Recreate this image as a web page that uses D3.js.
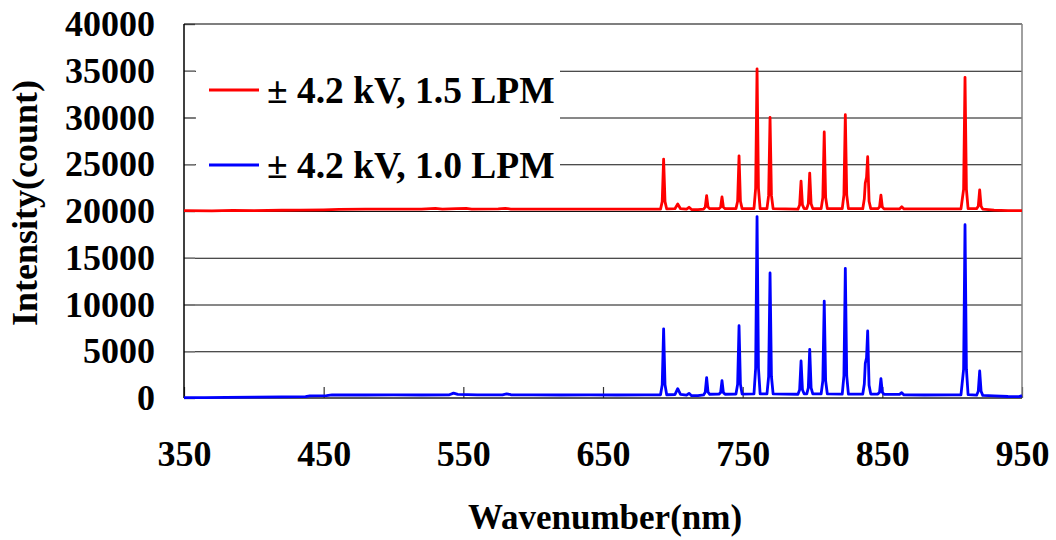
<!DOCTYPE html>
<html>
<head>
<meta charset="utf-8">
<script src="https://cdn.jsdelivr.net/npm/d3@7"></script>
<style>
  body { margin: 0; background: #fff; }
  svg { display: block; }
</style>
</head>
<body>
<div id="chart"></div>
<script>
// tick labels
var xTicks = [350, 450, 550, 650, 750, 850, 950];
var yTicks = [0, 5000, 10000, 15000, 20000, 25000, 30000, 35000, 40000];

var seriesNames = ["\u00b1 4.2 kV, 1.5 LPM", "\u00b1 4.2 kV, 1.0 LPM"];

// [wavelength nm, count]
var redSpectrum = [
  [350,20050],[370,20020],[385,20060],[400,20040],[420,20080],[433,20100],[450,20130],[461,20180],
  [480,20200],[500,20190],[520,20210],[530,20280],[535,20200],[545,20260],[552,20270],[556,20200],
  [575,20230],[580,20290],[584,20210],[600,20200],[620,20210],[640,20200],[660,20190],[680,20200],
  [691.2,20200],[692.4,21000],[693.4,25550],[694.4,21000],[695.6,20220],
  [701.5,20250],[703.5,20750],[705.5,20250],
  [709.8,20200],[711.6,20400],[713.4,20150],
  [718,20150],[722,20200],[723.2,20420],[724.2,21650],[725.2,20420],[726.4,20250],
  [733,20250],[734.2,20400],[735.2,21500],[736.2,20400],[737.4,20250],
  [745.2,20250],[746.4,21050],[747.4,25900],[748.4,21050],[749.6,20250],
  [758.1,20250],[759.3,22450],[760.3,35200],[761.3,22450],[762.5,20250],
  [767.4,20250],[768.6,21670],[769.6,30000],[770.6,21670],[771.8,20250],
  [789.6,20200],[790.8,20650],[791.8,23200],[792.8,20650],[794,20250],
  [795.9,20250],[797,20780],[798,24050],[799,20780],[800.2,20250],
  [806.2,20250],[807.4,21440],[808.4,28450],[809.4,21440],[810.6,20250],
  [821.3,20250],[822.5,21720],[823.5,30300],[824.5,21720],[825.7,20250],
  [836,20250],[837.1,21300],[837.8,23000],[838.7,23600],[839.5,25800],[840.5,21040],[841.7,20250],
  [846.8,20250],[848,20420],[849,21700],[850,20420],[851.2,20230],
  [862.3,20220],[863.9,20450],[865.5,20220],
  [880,20220],[900,20230],[906.3,20230],[908.2,22320],[909.2,34300],[910.2,22320],[911.4,20250],
  [917.5,20250],[918.7,20510],[919.7,22250],[920.7,20510],[921.9,20200],
  [930,20100],[940,20050],[950,20030]
];

var blueSpectrum = [
  [350,30],[365,40],[380,60],[400,90],[420,110],[437,150],[440,230],[452,250],[456,330],
  [480,320],[500,330],[520,320],[540,340],[543,520],[546,380],[560,330],[578,340],[581,450],
  [584,350],[600,330],[620,320],[640,330],[660,320],[680,330],
  [691.2,350],[692.4,1410],[693.4,7400],[694.4,1410],[695.6,350],
  [701.5,360],[703.5,1000],[705.5,380],
  [709.8,300],[711.6,500],[713.4,250],
  [718,250],[722,330],[723.2,620],[724.2,2170],[725.2,620],[726.4,400],
  [733,420],[734.2,575],[735.2,1850],[736.2,575],[737.4,400],
  [745.2,420],[746.4,1460],[747.4,7730],[748.4,1460],[749.6,420],
  [758.1,450],[759.3,3210],[760.3,19400],[761.3,3210],[762.5,450],
  [767.4,450],[768.6,2300],[769.6,13370],[770.6,2300],[771.8,450],
  [789.6,400],[790.8,890],[791.8,3960],[792.8,890],[794,450],
  [795.9,450],[797,1080],[798,5200],[799,1080],[800.2,450],
  [806.2,450],[807.4,1850],[808.4,10370],[809.4,1850],[810.6,450],
  [821.3,420],[822.5,2380],[823.5,13870],[824.5,2380],[825.7,420],
  [836,420],[837.1,1500],[837.8,3700],[838.7,4300],[839.5,7170],[840.5,1370],[841.7,420],
  [846.8,420],[848,610],[849,2070],[850,610],[851.2,400],
  [862.3,380],[863.9,570],[865.5,330],
  [880,320],[900,330],[906.3,330],[908.2,3080],[909.2,18530],[910.2,3080],[911.4,350],
  [917.5,300],[918.7,730],[919.7,2890],[920.7,730],[921.9,280],
  [930,220],[940,160],[948,150],[950,250]
];

var W = 1056, H = 540;
var margin = {top: 24, right: 34, bottom: 142, left: 184};
var width = W - margin.left - margin.right,
    height = H - margin.top - margin.bottom;
var font = "'Liberation Serif', 'Times New Roman', serif";

var svg = d3.select("#chart").append("svg")
    .attr("width", W)
    .attr("height", H);

var g = svg.append("g")
    .attr("transform", "translate(" + margin.left + "," + margin.top + ")");

var x = d3.scaleLinear().domain([350, 950]).range([0, width]);
var y = d3.scaleLinear().domain([0, 40000]).range([height, 0]);

// gridlines
g.append("g")
  .call(d3.axisLeft(y).tickValues(yTicks.slice(1, -1)).tickSize(-width).tickFormat(""))
  .call(function(s) {
    s.select(".domain").remove();
    s.selectAll("line").attr("stroke", "#111").attr("stroke-width", 1);
  });

// inner ticks on the y side
g.append("g")
  .call(d3.axisLeft(y).tickValues(yTicks).tickSize(-11).tickFormat(""))
  .call(function(s) {
    s.select(".domain").remove();
    s.selectAll("line").attr("stroke", "#777").attr("stroke-width", 1.5);
  });

// inner ticks on the x side
g.append("g")
  .attr("transform", "translate(0," + height + ")")
  .call(d3.axisBottom(x).tickValues(xTicks).tickSize(-11).tickFormat(""))
  .call(function(s) {
    s.select(".domain").remove();
    s.selectAll("line").attr("stroke", "#333").attr("stroke-width", 1.2);
  });

// legend background box hides the gridlines behind it
g.append("rect")
  .attr("x", 12).attr("y", 36)
  .attr("width", 364).attr("height", 150)
  .attr("fill", "#fff");

// plot border
g.append("line").attr("x1", 0).attr("x2", width).attr("y1", 0).attr("y2", 0)
  .attr("stroke", "#000").attr("stroke-width", 1.2);
g.append("line").attr("x1", 0).attr("x2", 0).attr("y1", 0).attr("y2", height)
  .attr("stroke", "#000").attr("stroke-width", 1.5);
g.append("line").attr("x1", width).attr("x2", width).attr("y1", 0).attr("y2", height)
  .attr("stroke", "#808080").attr("stroke-width", 1.5);
g.append("line").attr("x1", 0).attr("x2", width).attr("y1", height).attr("y2", height)
  .attr("stroke", "#222").attr("stroke-width", 1.5);

var line = d3.line()
  .x(function(d) { return x(d[0]); })
  .y(function(d) { return y(d[1]); });

g.append("path")
  .datum(blueSpectrum)
  .attr("fill", "none")
  .attr("stroke", "#0000ff")
  .attr("stroke-width", 2.8)
  .attr("stroke-linejoin", "round")
  .attr("d", line);

g.append("path")
  .datum(redSpectrum)
  .attr("fill", "none")
  .attr("stroke", "#ff0000")
  .attr("stroke-width", 2.8)
  .attr("stroke-linejoin", "round")
  .attr("d", line);

// tick labels
g.append("g")
  .call(d3.axisLeft(y).tickValues(yTicks).tickSize(0).tickPadding(29).tickFormat(d3.format("d")))
  .call(function(s) {
    s.select(".domain").remove();
    s.attr("font-family", font).attr("font-size", 36).attr("font-weight", "bold");
    s.selectAll("text").attr("fill", "#000");
  });

g.append("g")
  .attr("transform", "translate(0," + height + ")")
  .call(d3.axisBottom(x).tickValues(xTicks).tickSize(0).tickPadding(42).tickFormat(d3.format("d")))
  .call(function(s) {
    s.select(".domain").remove();
    s.attr("font-family", font).attr("font-size", 36).attr("font-weight", "bold");
    s.selectAll("text").attr("fill", "#000");
  });

// axis titles
svg.append("text")
  .attr("transform", "translate(37,203) rotate(-90)")
  .attr("text-anchor", "middle")
  .attr("font-family", font).attr("font-size", 36).attr("font-weight", "bold")
  .text("Intensity(count)");

svg.append("text")
  .attr("x", 605).attr("y", 529)
  .attr("text-anchor", "middle")
  .attr("font-family", font).attr("font-size", 35).attr("font-weight", "bold")
  .text("Wavenumber(nm)");

// legend
var legendColors = ["#ff0000", "#0000ff"];
var legend = svg.selectAll(".legend")
  .data(seriesNames)
  .enter().append("g")
  .attr("class", "legend")
  .attr("transform", function(d, i) { return "translate(0," + (90 + i * 75) + ")"; });

legend.append("line")
  .attr("x1", 209).attr("x2", 259)
  .attr("stroke", function(d, i) { return legendColors[i]; })
  .attr("stroke-width", 2.8);

legend.append("text")
  .attr("x", 267).attr("y", 13)
  .attr("font-family", font).attr("font-size", 37.5).attr("font-weight", "bold")
  .text(function(d) { return d; });
</script>
</body>
</html>
